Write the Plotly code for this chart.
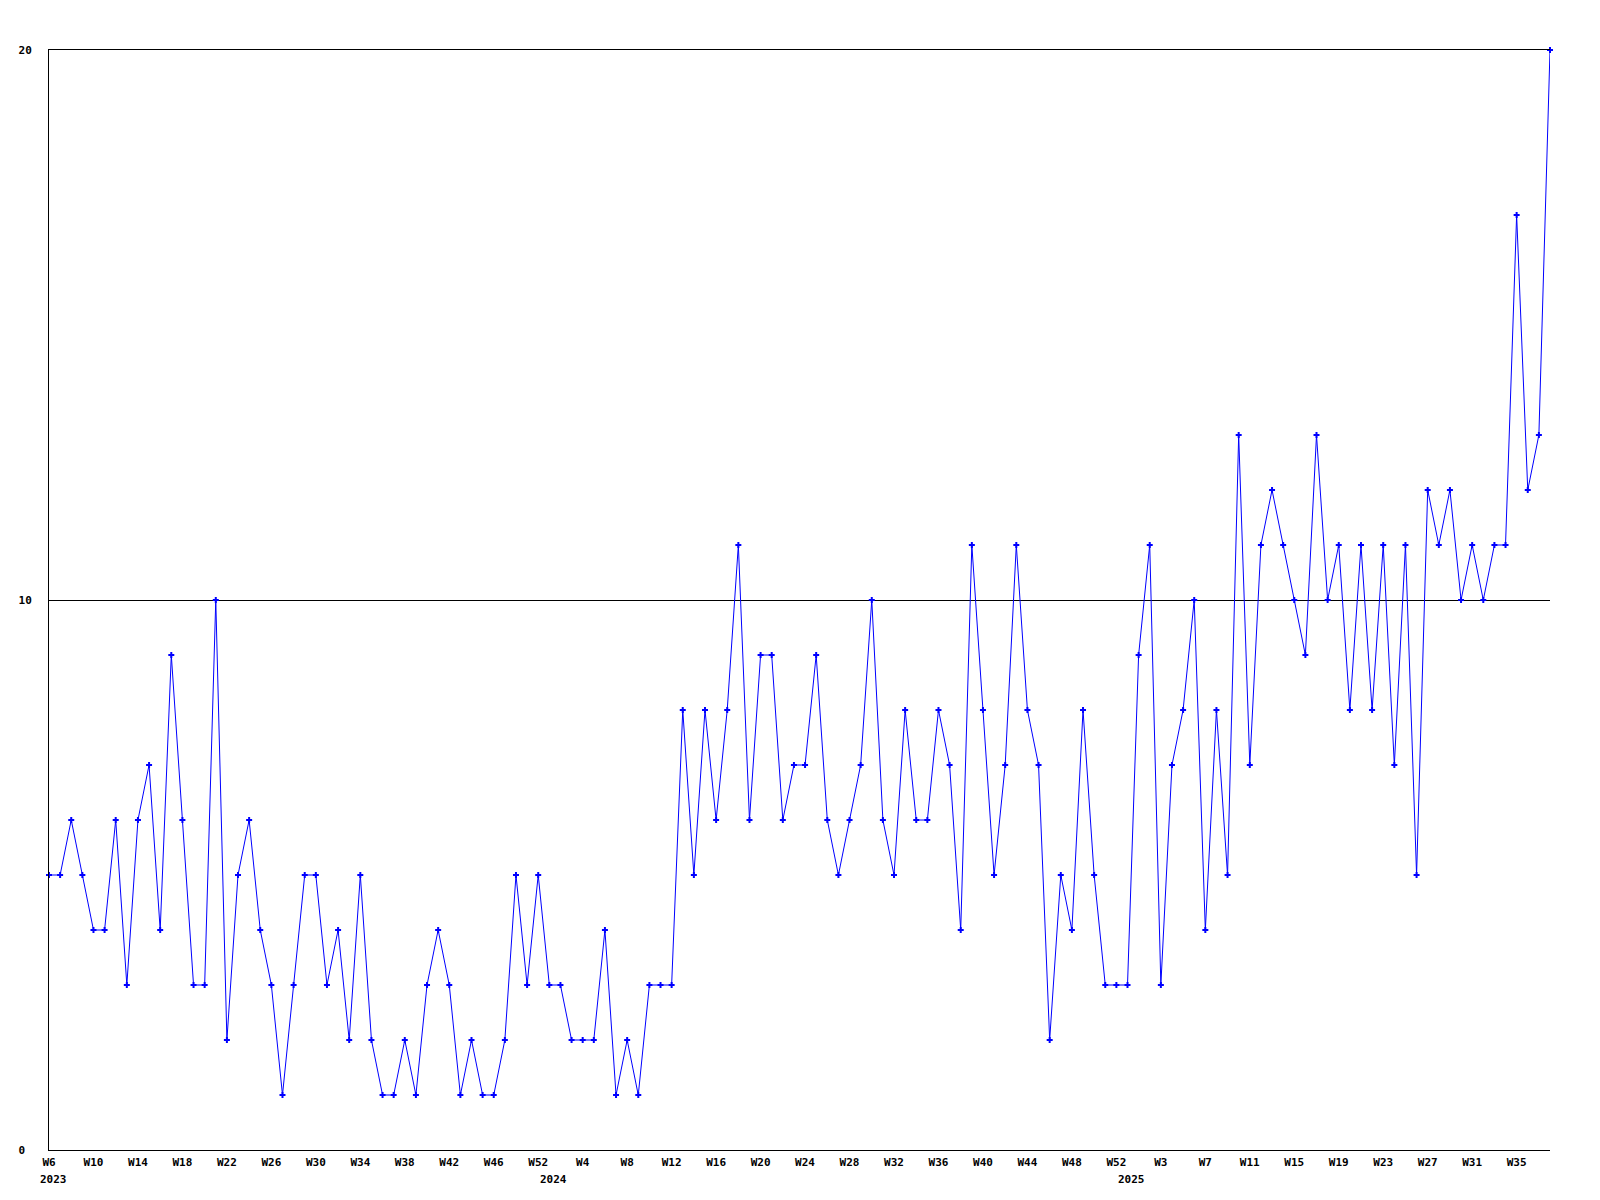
import plotly.graph_objects as go

# weekly values, 2023 W6 .. 2025 W37 (one per point, evenly spaced)
values = [
    5, 5, 6, 5, 4, 4, 6, 3, 6, 7,
    4, 9, 6, 3, 3, 10, 2, 5, 6, 4,
    3, 1, 3, 5, 5, 3, 4, 2, 5, 2,
    1, 1, 2, 1, 3, 4, 3, 1, 2, 1,
    1, 2, 5, 3, 5, 3, 3, 2, 2, 2,
    4, 1, 2, 1, 3, 3, 3, 8, 5, 8,
    6, 8, 11, 6, 9, 9, 6, 7, 7, 9,
    6, 5, 6, 7, 10, 6, 5, 8, 6, 6,
    8, 7, 4, 11, 8, 5, 7, 11, 8, 7,
    2, 5, 4, 8, 5, 3, 3, 3, 9, 11,
    3, 7, 8, 10, 4, 8, 5, 13, 7, 11,
    12, 11, 10, 9, 13, 10, 11, 8, 11, 8,
    11, 7, 11, 5, 12, 11, 12, 10, 11, 10,
    11, 11, 17, 12, 13, 20,
]

# x tick labels, one every 4th point
week_labels = [
    "W6", "W10", "W14", "W18", "W22", "W26", "W30", "W34", "W38", "W42", "W46", "W52",
    "W4", "W8", "W12", "W16", "W20", "W24", "W28", "W32", "W36", "W40", "W44", "W48", "W52",
    "W3", "W7", "W11", "W15", "W19", "W23", "W27", "W31", "W35",
]
label_step = 4

# year labels and the point index where each year starts
years = ["2023", "2024", "2025"]
year_start_index = [0, 45, 97]

y_ticks = [0, 10, 20]
y_tick_text = ["0\u00a0", "10", "20"]

x = list(range(len(values)))
tick_vals = [i * label_step for i in range(len(week_labels))]

font = dict(family="DejaVu Sans Mono", size=11, color="black", weight="bold")

fig = go.Figure()
fig.add_trace(go.Scatter(
    x=x, y=values, mode="lines+markers",
    line=dict(color="#0000FF", width=1),
    marker=dict(symbol="cross", size=5, color="#0000FF"),
    cliponaxis=False, hoverinfo="skip", showlegend=False,
))

for yr, idx in zip(years, year_start_index):
    fig.add_annotation(
        x=idx, y=0, xref="x", yref="paper", text=yr, showarrow=False,
        xanchor="center", yanchor="top", xshift=4, yshift=-21, font=font,
    )

# page body adds an 8px offset, so the figure is 8px smaller with trimmed top/left margins
fig.update_layout(
    width=1592, height=1192,
    margin=dict(l=41, r=50, t=42, b=50, autoexpand=False),
    plot_bgcolor="white", paper_bgcolor="white",
    showlegend=False,
)
fig.update_xaxes(
    range=[0, len(values) - 1], tickvals=tick_vals, ticktext=week_labels,
    showgrid=False, zeroline=False, showline=True, linecolor="black",
    linewidth=1, mirror=True, ticks="", tickfont=font, tickangle=0,
    ticklabelstandoff=2, automargin=False,
)
fig.update_yaxes(
    range=[0, 20], tickvals=y_ticks, ticktext=y_tick_text,
    showgrid=True, gridcolor="black", gridwidth=1, zeroline=False,
    showline=True, linecolor="black", linewidth=1, mirror=False,
    ticks="", tickfont=font, ticklabelstandoff=14, automargin=False,
)

fig.write_html("out.html")
